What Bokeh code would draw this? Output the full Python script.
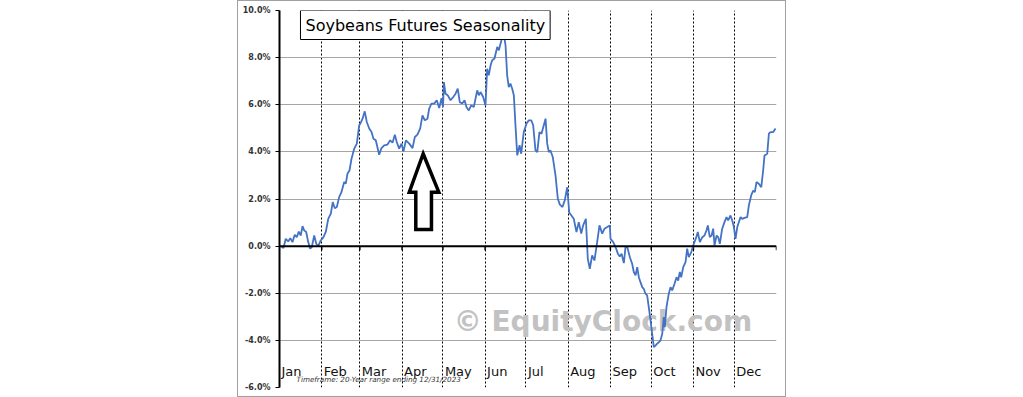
from bokeh.plotting import figure
from bokeh.models import Range1d, FixedTicker, PrintfTickFormatter, Label, Span, Spacer
from bokeh.layouts import row, column
from bokeh.core.properties import value
from bokeh.embed import file_html
from bokeh.resources import INLINE

# ---------------- data ----------------
title_text = "Soybeans Futures Seasonality"
timeframe_text = "Timeframe: 20-Year range ending 12/31/2023"
watermark_text = "\u00a9 EquityClock.com"

months = ["Jan", "Feb", "Mar", "Apr", "May", "Jun", "Jul", "Aug", "Sep", "Oct", "Nov", "Dec"]
month_start = [0, 31, 59, 90, 120, 151, 181, 212, 243, 273, 304, 334]
year_end = 365

y_ticks = [-6, -4, -2, 0, 2, 4, 6, 8, 10]

days = [
    1, 2.9, 4.6, 6.4, 7.9, 9.5, 11.2, 12.7, 14.2, 15.6,
    16.9, 18.1, 19.6, 21.1, 22.5, 23.7, 25.5, 27.0, 28.4, 30.3,
    32.3, 34.0, 35.8, 37.7, 39.1, 40.6, 42.1, 43.8, 45.5, 47.5,
    48.7, 49.9, 51.4, 52.9, 54.9, 56.8, 58.5, 59.7, 61.0, 62.6,
    64.1, 65.9, 67.6, 69.0, 70.7, 73.2, 74.9, 76.9, 79.3, 81.3,
    83.0, 84.7, 86.1, 87.9, 89.6, 91.1, 92.8, 95.3, 97.7, 99.4,
    101.3, 103.3, 105.0, 106.7, 108.7, 109.9, 111.6, 113.6, 115.5, 117.3,
    119.0, 120.1, 120.7,
    121.9, 123.6, 125.6, 127.6, 129.3, 130.9, 132.4, 134.2, 135.9, 137.3,
    139.0, 140.8, 142.7, 145.2, 146.4, 147.6, 149.6, 151.3, 152.5, 153.7,
    155.0, 156.2, 157.9, 159.9, 161.1, 162.3, 163.6, 164.7, 166.0, 167.2,
    168.4, 169.6, 170.9, 172.1, 173.3, 174.6, 176.3, 177.5, 179.4, 181.4,
    183.1, 184.9, 186.3, 188.0, 189.3, 190.9, 192.4, 194.1, 195.4, 196.6,
    197.8, 199.0, 200.7, 202.7, 204.4, 205.9, 207.8, 209.5, 211.3, 212.8,
    214.4, 216.1, 218.1, 219.8, 221.6, 223.0, 225.0, 226.4, 227.9, 229.6,
    231.3, 233.3, 235.0, 237.0, 238.7, 240.7, 242.6, 243.1, 245.1, 246.8,
    248.5, 249.9, 251.2, 252.9, 254.1, 255.4, 257.3, 259.0, 260.2, 261.5,
    262.7, 263.9, 265.1, 266.4, 267.5, 268.8, 270.0, 271.2, 272.5, 273.7,
    274.9, 276.1, 277.4, 278.6, 279.8, 281.1, 282.2, 283.0, 284.2, 285.9,
    287.2, 288.4, 290.1, 291.6, 292.8, 294.0, 295.0, 296.5, 298.2, 299.4,
    300.6, 302.4, 304.3, 306.1, 307.2, 308.7, 310.5, 312.1, 313.6, 314.6,
    316.0, 317.3, 318.5, 319.5, 321.0, 322.2, 323.4, 325.1, 326.8, 328.3,
    329.5, 331.2, 332.5, 333.7, 334.9, 336.2, 337.4, 338.6, 339.8, 341.5,
    343.5, 344.7, 346.4, 347.9, 349.1, 350.3, 352.0, 353.8, 355.2, 356.2,
    358.2, 359.4, 360.6, 362.6, 364.3,
]

seasonal_pct = [
    0.0, -0.08, 0.31, 0.2, 0.34, 0.17, 0.48, 0.38, 0.62, 0.45,
    0.85, 0.67, 0.6, 0.17, -0.11, -0.04, 0.45, 0.1, 0.0, 0.24,
    0.38, 0.6, 1.16, 1.38, 1.87, 1.61, 1.66, 2.08, 2.29, 2.72,
    2.65, 3.07, 3.21, 3.71, 4.14, 4.35, 5.12, 5.24, 5.41, 5.72,
    5.27, 4.99, 4.84, 4.56, 4.49, 3.88, 4.16, 4.28, 4.31, 4.49,
    4.39, 4.73, 4.42, 4.14, 4.35, 4.02, 4.49, 4.35, 4.16, 4.63,
    4.73, 4.99, 5.55, 5.34, 5.41, 5.83, 6.05, 6.05, 6.19, 5.86,
    6.28, 5.9, 6.96,
    6.47, 6.4, 6.19, 6.33, 6.47, 6.68, 6.11, 6.05, 6.19, 5.9,
    5.76, 5.97, 5.9, 6.61, 6.4, 6.54, 6.33, 5.97, 7.53, 7.25,
    7.67, 7.89, 7.96, 8.45, 8.31, 8.59, 8.87, 9.02, 8.52, 7.25,
    6.75, 6.9, 6.68, 6.4, 5.13, 3.85, 4.28, 3.92, 4.84, 5.2,
    5.34, 5.34, 5.13, 4.06, 3.99, 4.84, 4.77, 5.13, 5.41, 4.35,
    3.99, 4.06, 3.78, 3.0, 2.01, 1.76, 1.66, 1.94, 2.5, 1.42,
    1.3, 1.16, 0.6, 1.02, 0.53, 0.88, 1.16, -0.53, -0.96, -0.39,
    -0.61, 0.17, 0.88, 0.53, 0.74, 0.81, 0.88, 0.31, 0.17, -0.04,
    -0.32, -0.44, -0.32, -0.72, -0.04, -0.04, -0.47, -0.75, -1.1, -1.24,
    -0.89, -1.32, -1.53, -1.74, -1.81, -2.02, -2.09, -2.59, -3.16, -3.72,
    -4.29, -4.22, -4.14, -4.08, -4.0, -3.72, -3.01, -3.44, -2.59, -2.02,
    -1.74, -1.88, -1.6, -1.32, -1.46, -1.1, -1.32, -0.89, -0.68, -0.11,
    -0.47, -0.25, 0.1, 0.38, 0.6, 0.17, 0.38, 0.45, 0.67, 0.88,
    0.38, 0.45, 0.74, 0.03, 0.45, 0.38, 0.1, 0.74, 1.02, 1.23,
    1.09, 1.3, 1.09, 0.81, 0.31, 0.81, 1.02, 1.23, 1.16, 1.2,
    1.23, 1.73, 2.15, 2.36, 2.29, 2.72, 2.65, 2.5, 3.21, 3.85,
    3.92, 4.77, 4.84, 4.84, 4.99,
]

# annotation arrow outline (day, percent)
arrow_x = [105.5, 117.0, 111.6, 111.6, 100.1, 100.1, 95.3]
arrow_y = [3.92, 2.29, 2.29, 0.71, 0.71, 2.29, 2.29]

# ---------------- figure ----------------
p = figure(
    width=547, height=395,
    x_range=Range1d(0, year_end), y_range=Range1d(y_ticks[0], y_ticks[-1]),
    output_backend="svg", toolbar_location=None,
    min_border_left=41, min_border_right=9, min_border_top=9, min_border_bottom=9,
    background_fill_color="white", border_fill_color="white",
)
p.outline_line_color = None
p.styles = {"outline": "1px solid #a0a0a0"}

p.xaxis.visible = False

# vertical month dividers
p.xgrid.ticker = FixedTicker(ticks=month_start[1:])
p.xgrid.grid_line_color = "black"
p.xgrid.grid_line_dash = "2 2"
p.xgrid.grid_line_width = 1

# horizontal grid
p.ygrid.ticker = FixedTicker(ticks=[t for t in y_ticks if t not in (0, y_ticks[0], y_ticks[-1])])
p.ygrid.grid_line_color = "#a6a6a6"
p.ygrid.grid_line_width = 1

# y axis
yax = p.yaxis[0]
yax.ticker = FixedTicker(ticks=y_ticks)
yax.formatter = PrintfTickFormatter(format="%.1f%%")
yax.axis_line_color = "black"
yax.axis_line_width = 2
yax.major_tick_line_color = "black"
yax.major_tick_out = 4
yax.major_tick_in = 0
yax.minor_tick_line_color = None
yax.major_label_standoff = 5
yax.major_label_text_font = "DejaVu Sans"
yax.major_label_text_font_style = "bold"
yax.major_label_text_font_size = "8px"
yax.major_label_text_color = "#333333"

# watermark
p.text(x=[(month_start[0] + year_end) / 2 + 55], y=[-3.2], text=[watermark_text],
       text_font=value("DejaVu Sans"), text_font_style="bold", text_font_size="28px",
       text_color="#c2c2c2", text_align="center", text_baseline="middle")

# zero line with month ticks
p.add_layout(Span(location=0, dimension="width", line_color="black", line_width=2))
tick_x = month_start[1:] + [year_end]
p.segment(x0=tick_x, y0=[0] * len(tick_x), x1=tick_x, y1=[-0.17] * len(tick_x),
          line_color="black", line_width=1.5)

# seasonal line
p.line(days, seasonal_pct, line_color="#4472c4", line_width=1.8)

# arrow
p.patch(arrow_x, arrow_y, fill_color="white", line_color="black", line_width=3.5, line_join="miter")

# month labels
p.text(x=month_start, y=[-5.32] * len(months), text=months, x_offset=2,
       text_font=value("DejaVu Sans"), text_font_size="13px", text_color="#111111",
       text_align="left", text_baseline="middle")

# timeframe note
p.text(x=[12.5], y=[-5.68], text=[timeframe_text],
       text_font=value("DejaVu Sans"), text_font_style="italic", text_font_size="7.2px",
       text_color="#333333", text_align="left", text_baseline="middle")

# title box
p.add_layout(Label(x=15.4, y=10.0, text=title_text, anchor="top_left",
                   text_font="DejaVu Sans", text_font_size="16px", text_color="black",
                   border_line_color="black", border_line_width=1,
                   background_fill_color="white", padding=5))

layout = column(Spacer(width=10, height=1), row(Spacer(width=238, height=395), p))

open("out.html", "w").write(file_html(layout, INLINE))
